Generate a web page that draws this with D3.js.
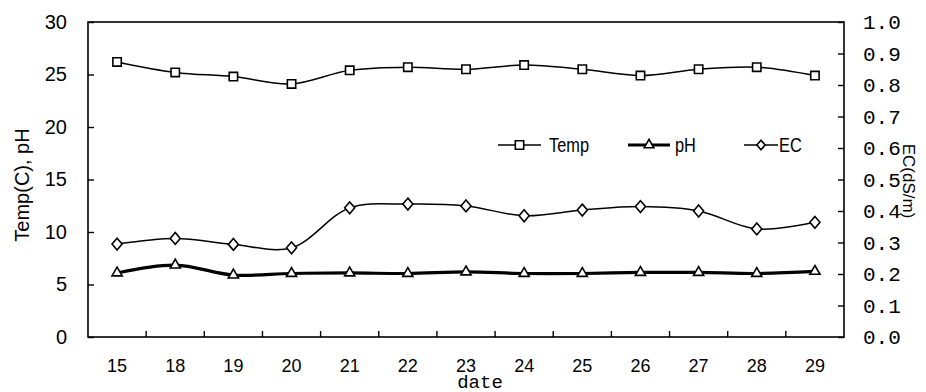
<!DOCTYPE html>
<html><head><meta charset="utf-8">
<script src="https://cdn.jsdelivr.net/npm/d3@7"></script>
<style>body{margin:0;background:#fff}svg{display:block}</style>
</head><body>
<svg id="c" width="926" height="392"></svg>
<script>
const dates = ["15","18","19","20","21","22","23","24","25","26","27","28","29"];
const temp = [26.2,25.2,24.8,24.1,25.4,25.7,25.5,25.9,25.5,24.9,25.5,25.7,24.9];
const pH   = [6.1,6.85,5.9,6.05,6.1,6.05,6.2,6.05,6.05,6.15,6.15,6.05,6.25];
const ec   = [0.295,0.313,0.294,0.283,0.41,0.422,0.416,0.385,0.403,0.414,0.40,0.343,0.364];
const leftTicks = [0,5,10,15,20,25,30];
const rightTicks = [0,0.1,0.2,0.3,0.4,0.5,0.6,0.7,0.8,0.9,1.0];

const svg = d3.select("#c");
const L=88,R=844,T=22,B=337;
const x = d3.scaleBand().domain(dates).range([L,R]);
const yL = d3.scaleLinear().domain([0,30]).range([B,T]);
const yR = d3.scaleLinear().domain([0,1]).range([B,T]);
const cx = d => x(d)+x.bandwidth()/2;

// frame
svg.append("rect").attr("x",L).attr("y",T).attr("width",R-L).attr("height",B-T)
  .attr("fill","none").attr("stroke","#000").attr("stroke-width",1.6);

// left axis
const gL = svg.append("g").attr("transform",`translate(${L},0)`)
  .call(d3.axisLeft(yL).tickValues(leftTicks).tickSizeInner(-6).tickSizeOuter(0).tickPadding(21));
// right axis
const gR = svg.append("g").attr("transform",`translate(${R},0)`)
  .call(d3.axisRight(yR).tickValues(rightTicks).tickFormat(d3.format(".1f")).tickSizeInner(-6).tickSizeOuter(0).tickPadding(19));
// bottom axis (labels)
const gB = svg.append("g").attr("transform",`translate(0,${B})`)
  .call(d3.axisBottom(x).tickSize(0).tickPadding(22));
// bottom ticks at band boundaries
svg.append("g").selectAll("line").data(dates.slice(1)).join("line")
  .attr("x1",d=>x(d)).attr("x2",d=>x(d)).attr("y1",B).attr("y2",B-6)
  .attr("stroke","#000").attr("stroke-width",1.4);

[gL,gR,gB].forEach(g=>{
  g.select(".domain").remove();
  g.selectAll(".tick line").attr("stroke","#000").attr("stroke-width",1.4);
});
gL.selectAll("text").attr("font-family","Liberation Sans, Arial, sans-serif").attr("font-size",20).attr("fill","#000");
gR.selectAll("text").attr("font-family","Liberation Mono, monospace").attr("font-size",21).attr("fill","#000");
gB.selectAll("text").attr("font-family","Liberation Sans, Arial, sans-serif").attr("font-size",18).attr("fill","#000");

// axis titles
svg.append("text").attr("transform","translate(29,185) rotate(-90)").attr("text-anchor","middle")
  .attr("font-family","Liberation Sans, Arial, sans-serif").attr("font-size",20).text("Temp(C), pH");
svg.append("text").attr("transform","translate(903,181) rotate(90)").attr("text-anchor","middle")
  .attr("font-family","Liberation Sans, Arial, sans-serif").attr("font-size",17).text("EC(dS/m)");
svg.append("text").attr("x",480).attr("y",388).attr("text-anchor","middle")
  .attr("font-family","Liberation Mono, monospace").attr("font-size",19).text("date");

const curve = d3.curveCatmullRom.alpha(0.5);
function series(vals, yS, width, shape, size){
  const line = d3.line().x((d,i)=>cx(dates[i])).y(d=>yS(d)).curve(curve);
  svg.append("path").attr("d",line(vals)).attr("fill","none").attr("stroke","#000").attr("stroke-width",width);
  svg.append("g").selectAll("path").data(vals).join("path")
    .attr("transform",(d,i)=>`translate(${cx(dates[i])},${yS(d)})`)
    .attr("d",d3.symbol().type(shape).size(size)())
    .attr("fill","#fff").attr("stroke","#000").attr("stroke-width",1.6);
}
const diamond = {draw(ctx,size){const r=Math.sqrt(size)/1.6;ctx.moveTo(0,-r);ctx.lineTo(r*0.85,0);ctx.lineTo(0,r);ctx.lineTo(-r*0.85,0);ctx.closePath();}};
series(temp, yL, 1.5, d3.symbolSquare, 70);
series(pH, yL, 3.2, d3.symbolTriangle, 45);
series(ec, yR, 1.5, diamond, 90);

// legend
const lg = svg.append("g");
function legendItem(x1,x2,ly,width,shape,size,label,tx){
  lg.append("line").attr("x1",x1).attr("x2",x2).attr("y1",ly).attr("y2",ly).attr("stroke","#000").attr("stroke-width",width);
  lg.append("path").attr("transform",`translate(${(x1+x2)/2},${ly})`).attr("d",d3.symbol().type(shape).size(size)())
    .attr("fill","#fff").attr("stroke","#000").attr("stroke-width",1.6);
  lg.append("text").attr("transform",`translate(${tx},${ly+7}) scale(0.78,1)`)
    .attr("font-family","Liberation Sans, Arial, sans-serif").attr("font-size",21).text(label);
}
legendItem(498,541,145,1.5,d3.symbolSquare,70,"Temp",549);
legendItem(628,670,145,3.2,d3.symbolTriangle,40,"pH",675);
legendItem(744,778,145,1.5,diamond,60,"EC",779);
</script>
</body></html>
